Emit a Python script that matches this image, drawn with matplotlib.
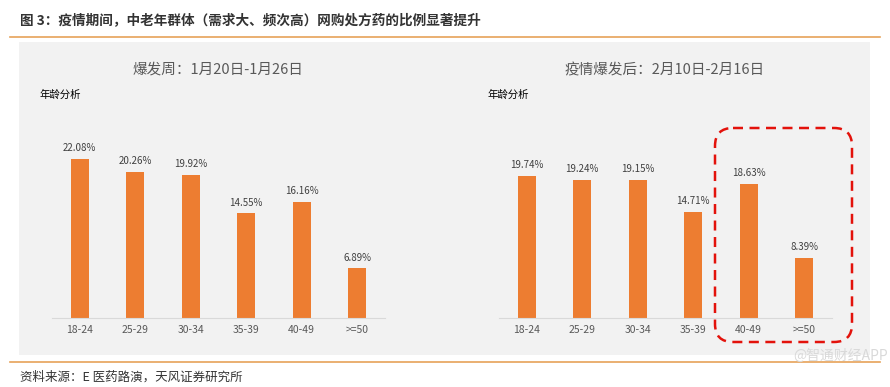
import matplotlib.pyplot as plt
from matplotlib.patches import Rectangle, FancyBboxPatch

plt.rcParams['font.family'] = ['Noto Sans CJK SC', 'DejaVu Sans']

# data
ages = ["18-24", "25-29", "30-34", "35-39", "40-49", ">=50"]
week_outbreak = [22.08, 20.26, 19.92, 14.55, 16.16, 6.89]
week_after = [19.74, 19.24, 19.15, 14.71, 18.63, 8.39]
subtitles = ["爆发周：1月20日-1月26日", "疫情爆发后：2月10日-2月16日"]

W, H = 890, 387
fig = plt.figure(figsize=(W / 100, H / 100), dpi=100)

# background layer in pixel coordinates
bg = fig.add_axes([0, 0, 1, 1], zorder=0)
bg.set_xlim(0, W)
bg.set_ylim(H, 0)
bg.axis("off")
bg.add_patch(Rectangle((19, 42), 851, 313, color="#F2F2F2", lw=0))
bg.plot([10, 880], [37, 37], color="#E6A259", lw=1.2)
bg.plot([10, 880], [362, 362], color="#E6A259", lw=1.2)
bg.text(20, 20, "图 3：疫情期间，中老年群体（需求大、频次高）网购处方药的比例显著提升",
        fontsize=9.8, fontweight="bold", color="#333333", va="center")
bg.text(20, 377, "资料来源：E 医药路演，天风证券研究所", fontsize=9,
        color="#333333", va="center")
bg.text(888, 356, "@智通财经APP", fontsize=10, color="#D9D9D9", ha="right", va="center")

# red dashed highlight box
box = FancyBboxPatch((715, 128), 137, 214, boxstyle="round,pad=0,rounding_size=18",
                     fill=False, ec="#E3120B", lw=1.8, ls=(0, (4, 2.6)))
bg.add_patch(box)


def draw(left_px, values, subtitle, label_x):
    ax = fig.add_axes([left_px / W, (H - 318) / H, 333 / W, 218 / H], zorder=2)
    ax.patch.set_alpha(0)
    x = range(len(ages))
    bars = ax.bar(x, values, width=0.33, color="#ED7D31")
    for b, v in zip(bars, values):
        ax.text(b.get_x() + b.get_width() / 2, v + 0.8, f"{v:.2f}%",
                ha="center", va="bottom", fontsize=7, color="#404040")
    ax.set_xlim(-0.5, 5.5)
    ax.set_ylim(0, 30.3)
    ax.set_xticks(list(x))
    ax.set_xticklabels(ages, fontsize=7.5, color="#595959")
    ax.tick_params(axis="x", length=0, pad=5)
    ax.set_yticks([])
    for s in ["top", "right", "left"]:
        ax.spines[s].set_visible(False)
    ax.spines["bottom"].set_color("#D9D9D9")
    bg.text(left_px + 166, 70, subtitle, fontsize=10.5, color="#595959",
            ha="center", va="center")
    bg.text(label_x, 95, "年龄分析", fontsize=7.5, color="#000000", va="center")


draw(52, week_outbreak, subtitles[0], 40)
draw(499, week_after, subtitles[1], 487)

fig.savefig("out.png", dpi=100)
